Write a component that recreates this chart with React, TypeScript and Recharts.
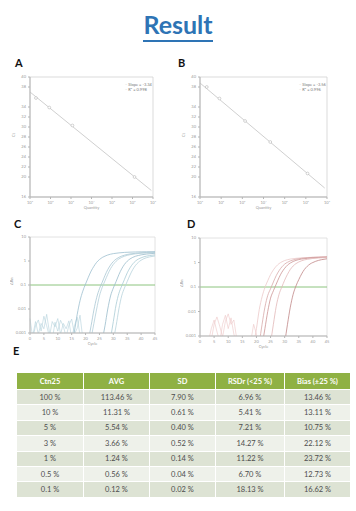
import React from "react";
import {
  ComposedChart,
  LineChart,
  Line,
  Scatter,
  XAxis,
  YAxis,
  ReferenceArea,
  ReferenceLine,
} from "recharts";

// ---- standard curves (A, B) ----
const qtyTicks = [1, 2, 3, 4, 5, 6, 7];
const ctTicks = [16, 18, 20, 22, 24, 26, 28, 30, 32, 34, 36, 38, 40];

const aQty = [1.29, 1.94, 3.07, 6.1];
const aCt = [35.8, 33.9, 30.3, 20.0];
const aFitQty = [1, 6.92];
const aFitCt = [37.0, 17.3];

const bQty = [1.32, 1.92, 3.13, 4.32, 6.08];
const bCt = [38.0, 35.7, 31.2, 27.0, 20.7];
const bFitQty = [1, 6.89];
const bFitCt = [38.8, 17.8];

// ---- amplification plots (C, D) ----
const cycleTicks = [0, 5, 10, 15, 20, 25, 30, 35, 40, 45];
const rnTicks = [0.001, 0.01, 0.1, 1, 10];
const threshold = 0.1;

const cCurves: number[][][] = [
  [[15, 0.0004], [16, 0.0012], [17, 0.006], [18, 0.022], [19, 0.055], [20, 0.11], [21, 0.21], [22, 0.38], [23, 0.6], [24, 0.88], [25, 1.15], [26, 1.4], [27, 1.6], [28, 1.78], [29, 1.92], [30, 2.03], [32, 2.18], [34, 2.28], [36, 2.34], [38, 2.38], [40, 2.41], [42, 2.43], [45, 2.45]],
  [[21, 0.0005], [22, 0.002], [23, 0.009], [24, 0.03], [25, 0.07], [26, 0.13], [27, 0.25], [28, 0.44], [29, 0.68], [30, 0.95], [31, 1.2], [32, 1.42], [33, 1.6], [34, 1.75], [35, 1.87], [36, 1.97], [38, 2.1], [40, 2.2], [42, 2.27], [45, 2.33]],
  [[22, 0.0006], [23, 0.0025], [24, 0.01], [25, 0.035], [26, 0.08], [27, 0.15], [28, 0.28], [29, 0.48], [30, 0.72], [31, 0.98], [32, 1.22], [33, 1.42], [34, 1.58], [35, 1.72], [36, 1.83], [38, 1.99], [40, 2.1], [42, 2.18], [45, 2.26]],
  [[26, 0.0005], [27, 0.002], [28, 0.01], [29, 0.035], [30, 0.075], [31, 0.14], [32, 0.27], [33, 0.47], [34, 0.72], [35, 0.98], [36, 1.22], [37, 1.42], [38, 1.58], [39, 1.7], [40, 1.8], [42, 1.95], [45, 2.1]],
  [[29, 0.0006], [30, 0.003], [31, 0.015], [32, 0.045], [33, 0.09], [34, 0.17], [35, 0.32], [36, 0.52], [37, 0.76], [38, 1.0], [39, 1.2], [40, 1.36], [41, 1.5], [42, 1.6], [43, 1.68], [45, 1.8]],
  [[30, 0.0005], [31, 0.002], [32, 0.01], [33, 0.035], [34, 0.075], [35, 0.14], [36, 0.26], [37, 0.44], [38, 0.66], [39, 0.88], [40, 1.08], [41, 1.25], [42, 1.38], [43, 1.48], [45, 1.62]],
];
const cNoise: number[][][] = [
  [[0, 0.004], [1, 0.0006], [2, 0.002], [3, 0.0035], [4, 0.0012], [5, 0.005], [6, 0.002], [7, 0.0007], [8, 0.003], [9, 0.0018], [10, 0.004], [11, 0.0009], [12, 0.0025], [13, 0.0015], [14, 0.0032], [15, 0.0006], [16, 0.002], [17, 0.0045], [18, 0.0008]],
  [[1, 0.0008], [2, 0.003], [3, 0.0009], [4, 0.0025], [5, 0.0015], [6, 0.006], [7, 0.0011], [8, 0.0005], [9, 0.0028], [10, 0.0012], [11, 0.0034], [12, 0.0019], [13, 0.0007], [14, 0.0021], [15, 0.0038], [16, 0.0009], [17, 0.0016], [18, 0.0055], [19, 0.0006]],
];
const cColors = ["#9dbfcf", "#a8c6d3", "#b4cfd9", "#9bbccc", "#aacbd6", "#b8d3dc"];

const dCurves: number[][][] = [
  [[19, 0.0005], [20, 0.002], [21, 0.012], [22, 0.04], [23, 0.095], [24, 0.18], [25, 0.32], [26, 0.5], [27, 0.7], [28, 0.9], [29, 1.06], [30, 1.2], [31, 1.3], [32, 1.38], [34, 1.48], [36, 1.55], [38, 1.6], [40, 1.63], [42, 1.66], [45, 1.7]],
  [[21, 0.0005], [22, 0.003], [23, 0.015], [24, 0.045], [25, 0.085], [26, 0.16], [27, 0.29], [28, 0.46], [29, 0.66], [30, 0.86], [31, 1.02], [32, 1.16], [33, 1.27], [34, 1.36], [36, 1.48], [38, 1.56], [40, 1.62], [42, 1.66], [45, 1.7]],
  [[22, 0.0004], [23, 0.002], [24, 0.01], [25, 0.035], [26, 0.07], [27, 0.13], [28, 0.24], [29, 0.4], [30, 0.58], [31, 0.78], [32, 0.95], [33, 1.1], [34, 1.22], [36, 1.38], [38, 1.48], [40, 1.55], [42, 1.6], [45, 1.66]],
  [[25, 0.0005], [26, 0.003], [27, 0.016], [28, 0.05], [29, 0.1], [30, 0.19], [31, 0.33], [32, 0.52], [33, 0.72], [34, 0.9], [35, 1.05], [36, 1.18], [38, 1.35], [40, 1.46], [42, 1.53], [45, 1.6]],
  [[30, 0.0005], [31, 0.003], [32, 0.015], [33, 0.05], [34, 0.11], [35, 0.2], [36, 0.34], [37, 0.52], [38, 0.7], [39, 0.87], [40, 1.0], [41, 1.12], [42, 1.22], [43, 1.3], [45, 1.42]],
];
const dNoise: number[][][] = [
  [[3, 0.0006], [4, 0.002], [5, 0.0045], [6, 0.0015], [7, 0.0006], [8, 0.003], [9, 0.007], [10, 0.002], [11, 0.0055], [12, 0.0012], [13, 0.0005]],
  [[4, 0.0007], [5, 0.003], [6, 0.006], [7, 0.0025], [8, 0.0009], [9, 0.004], [10, 0.008], [11, 0.003], [12, 0.0045], [13, 0.0008]],
  [[18, 0.0006], [19, 0.003], [20, 0.0012], [21, 0.0004]],
];
const dColors = ["#ecc9c9", "#d8a9a9", "#cc9494", "#e2b8b8", "#c08686"];

// ---- table E ----
const headers = ["Ctn25", "AVG", "SD", "RSDr (<25 %)", "Bias (±25 %)"];
const ctn = ["100 %", "10 %", "5 %", "3 %", "1 %", "0.5 %", "0.1 %"];
const avg = ["113.46 %", "11.31 %", "5.54 %", "3.66 %", "1.24 %", "0.56 %", "0.12 %"];
const sd = ["7.90 %", "0.61 %", "0.40 %", "0.52 %", "0.14 %", "0.04 %", "0.02 %"];
const rsd = ["6.96 %", "5.41 %", "7.21 %", "14.27 %", "11.22 %", "6.70 %", "18.13 %"];
const bias = ["13.46 %", "13.11 %", "10.75 %", "22.12 %", "23.72 %", "12.73 %", "16.62 %"];
const colWidths = [66, 65, 65, 68, 65];

const sup = ["⁰", "¹", "²", "³", "⁴", "⁵", "⁶", "⁷"];
const tickStyle = { fontSize: 4, fill: "#999" };
const axisColor = "#b5b5b5";

const toPts = (xs: number[], ys: number[]) => xs.map((x, i) => ({ x, y: ys[i] }));
const toCurve = (pts: number[][]) => pts.map(([c, v]) => ({ x: c, y: v }));

const Letter = ({ ch, x, y }: { ch: string; x: number; y: number }) => (
  <div style={{ position: "absolute", left: x, top: y, fontSize: 11, fontWeight: 700, color: "#111" }}>{ch}</div>
);

const Dot = (p: any) => (
  <circle cx={p.cx} cy={p.cy} r={1.4} fill="#fff" stroke="#a8a8a8" strokeWidth={0.5} />
);

const StdCurve = ({
  left, top, width, qty, ct, fitQty, fitCt, slope, r2,
}: {
  left: number; top: number; width: number; qty: number[]; ct: number[];
  fitQty: number[]; fitCt: number[]; slope: string; r2: string;
}) => (
  <div style={{ position: "absolute", left, top }}>
    <ComposedChart width={width} height={143} margin={{ top: 7, right: 5, bottom: 2, left: 0 }}>
      <XAxis
        type="number" dataKey="x" domain={[1, 7]} ticks={qtyTicks}
        tickFormatter={(v) => "10" + sup[v]} tick={tickStyle} tickSize={2}
        stroke={axisColor} height={14}
        label={{ value: "Quantity", position: "insideBottom", offset: 2, fontSize: 4, fill: "#999" }}
      />
      <YAxis
        type="number" dataKey="y" domain={[16, 40]} ticks={ctTicks}
        tick={tickStyle} tickSize={2} stroke={axisColor} width={20}
        label={{ value: "Ct", angle: -90, position: "insideLeft", offset: 4, fontSize: 4, fill: "#999" }}
      />
      <ReferenceArea x1={1} x2={7} y1={16} y2={40} fill="none" stroke="#d2d2d2" strokeWidth={0.8} />
      <Line
        data={toPts(fitQty, fitCt)} dataKey="y" stroke="#d0d0d0" strokeWidth={1}
        dot={false} isAnimationActive={false}
      />
      <Scatter data={toPts(qty, ct)} shape={Dot} isAnimationActive={false} />
    </ComposedChart>
    <div style={{ position: "absolute", left: width - 33, top: 12, fontSize: 4, color: "#777", lineHeight: "5px" }}>
      <div><span style={{ color: "#bbb" }}>– </span>{slope}</div>
      <div><span style={{ color: "#bbb" }}>– </span>{r2}</div>
    </div>
  </div>
);

const AmpPlot = ({
  left, top, width, height, curves, noise, colors, noiseColor,
}: {
  left: number; top: number; width: number; height: number; curves: number[][][];
  noise: number[][][]; colors: string[]; noiseColor: string;
}) => (
  <div style={{ position: "absolute", left, top }}>
    <LineChart width={width} height={height} margin={{ top: 7, right: 5, bottom: 1, left: 0 }}>
      <XAxis
        type="number" dataKey="x" domain={[0, 45]} ticks={cycleTicks}
        tick={tickStyle} tickSize={2} stroke={axisColor} height={13}
        label={{ value: "Cycle", position: "insideBottom", offset: 1, fontSize: 4, fill: "#999" }}
      />
      <YAxis
        type="number" dataKey="y" scale="log" domain={[0.001, 10]} ticks={rnTicks}
        allowDataOverflow tickFormatter={(v) => String(v)}
        tick={tickStyle} tickSize={2} stroke={axisColor} width={20}
        label={{ value: "ΔRn", angle: -90, position: "insideLeft", offset: 2, fontSize: 4, fill: "#999" }}
      />
      <ReferenceArea x1={0} x2={45} y1={0.001} y2={10} fill="none" stroke="#dadada" strokeWidth={0.8} />
      <ReferenceLine y={threshold} stroke="#8cc47e" strokeWidth={1} />
      {noise.map((n, i) => (
        <Line
          key={"n" + i} data={toCurve(n)} dataKey="y" stroke={noiseColor} strokeWidth={0.6}
          dot={false} isAnimationActive={false}
        />
      ))}
      {curves.map((c, i) => (
        <Line
          key={"c" + i} data={toCurve(c)} dataKey="y" type="monotone" stroke={colors[i]}
          strokeWidth={0.8} dot={false} isAnimationActive={false}
        />
      ))}
    </LineChart>
  </div>
);

export default function App() {
  const rows = ctn.map((c, i) => [c, avg[i], sd[i], rsd[i], bias[i]]);
  return (
    <div
      style={{
        position: "absolute", left: 0, top: 0, width: 356, height: 511, background: "#fff",
        fontFamily: "Lato, 'Open Sans', sans-serif", overflow: "hidden",
      }}
    >
      <div
        style={{
          position: "absolute", left: 0, width: 356, top: 9, textAlign: "center",
          fontSize: 25, fontWeight: 700, color: "#2e74b5",
        }}
      >
        <span style={{ borderBottom: "2px solid #2e74b5", paddingBottom: 1 }}>Result</span>
      </div>

      <Letter ch="A" x={15} y={56} />
      <Letter ch="B" x={178} y={56} />
      <Letter ch="C" x={14} y={217} />
      <Letter ch="D" x={187} y={217} />
      <Letter ch="E" x={13} y={344} />

      <StdCurve left={10} top={70} width={148} qty={aQty} ct={aCt} fitQty={aFitQty} fitCt={aFitCt} slope="Slope = -3.34" r2="R² = 0.998" />
      <StdCurve left={180} top={70} width={152} qty={bQty} ct={bCt} fitQty={bFitQty} fitCt={bFitCt} slope="Slope = -3.56" r2="R² = 0.996" />

      <AmpPlot left={10} top={230} width={150} height={117} curves={cCurves} noise={cNoise} colors={cColors} noiseColor="#b3d2db" />
      <AmpPlot left={180} top={231} width={152} height={119} curves={dCurves} noise={dNoise} colors={dColors} noiseColor="#ecc6c6" />

      <table
        style={{
          position: "absolute", left: 16, top: 372, borderCollapse: "collapse",
          fontSize: 7.5, color: "#4d4d4d", tableLayout: "fixed",
        }}
      >
        <thead>
          <tr style={{ height: 17, background: "#8fb144" }}>
            {headers.map((h, i) => (
              <th
                key={h}
                style={{
                  width: colWidths[i], padding: 0, color: "#fff", fontWeight: 700,
                  border: "1px solid #fff", textAlign: "center",
                }}
              >
                {h}
              </th>
            ))}
          </tr>
        </thead>
        <tbody>
          {rows.map((r, i) => (
            <tr key={i} style={{ height: 15.4, background: i % 2 === 0 ? "#dde3d4" : "#eef1ea" }}>
              {r.map((v, j) => (
                <td key={j} style={{ padding: 0, textAlign: "center", border: "1px solid #fff" }}>{v}</td>
              ))}
            </tr>
          ))}
        </tbody>
      </table>
    </div>
  );
}
